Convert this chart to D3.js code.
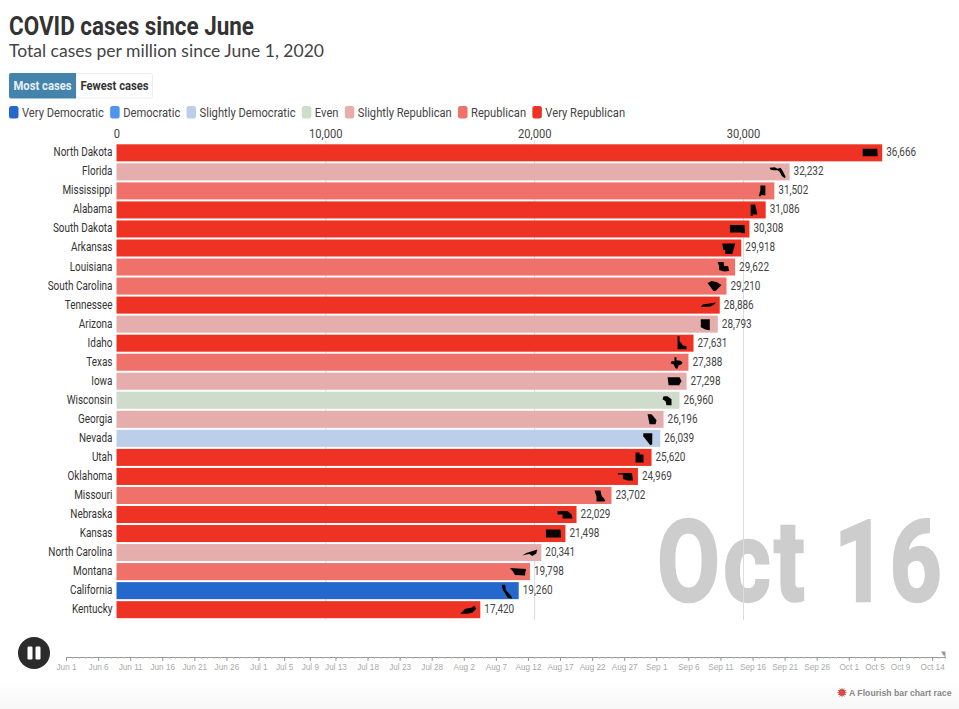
<!DOCTYPE html>
<html>
<head>
<meta charset="utf-8">
<script src="https://cdn.jsdelivr.net/npm/d3@7"></script>
<style>
  body { margin: 0; background: #fff; overflow: hidden; }
  svg { display: block; font-family: Roboto, sans-serif; }
</style>
</head>
<body>
<svg id="chart" width="959" height="709"></svg>
<script>
const states = ['North Dakota', 'Florida', 'Mississippi', 'Alabama', 'South Dakota', 'Arkansas', 'Louisiana',
  'South Carolina', 'Tennessee', 'Arizona', 'Idaho', 'Texas', 'Iowa', 'Wisconsin', 'Georgia', 'Nevada', 'Utah',
  'Oklahoma', 'Missouri', 'Nebraska', 'Kansas', 'North Carolina', 'Montana', 'California', 'Kentucky'];
const cases = [36666, 32232, 31502, 31086, 30308, 29918, 29622, 29210, 28886, 28793, 27631, 27388, 27298, 26960,
  26196, 26039, 25620, 24969, 23702, 22029, 21498, 20341, 19798, 19260, 17420];
const leanings = ['Very Republican', 'Slightly Republican', 'Republican', 'Very Republican', 'Very Republican',
  'Very Republican', 'Republican', 'Republican', 'Very Republican', 'Slightly Republican', 'Very Republican',
  'Republican', 'Slightly Republican', 'Even', 'Slightly Republican', 'Slightly Democratic', 'Very Republican',
  'Very Republican', 'Republican', 'Very Republican', 'Very Republican', 'Slightly Republican', 'Republican',
  'Very Democratic', 'Very Republican'];
const leaningNames = ['Very Democratic', 'Democratic', 'Slightly Democratic', 'Even', 'Slightly Republican',
  'Republican', 'Very Republican'];
const leaningColors = ['#2468cc', '#4f94ef', '#bccee9', '#d0dccb', '#e5aeac', '#f0706a', '#ee3224'];
const xTicks = [0, 10000, 20000, 30000];
const timeLabels = ['Jun 1', 'Jun 6', 'Jun 11', 'Jun 16', 'Jun 21', 'Jun 26', 'Jul 1', 'Jul 5', 'Jul 9', 'Jul 13',
  'Jul 18', 'Jul 23', 'Jul 28', 'Aug 2', 'Aug 7', 'Aug 12', 'Aug 17', 'Aug 22', 'Aug 27', 'Sep 1', 'Sep 6',
  'Sep 11', 'Sep 16', 'Sep 21', 'Sep 26', 'Oct 1', 'Oct 5', 'Oct 9', 'Oct 14'];

// little state outlines, drawn around their own centre
const stateIcons = {
  'North Dakota': 'M-7.5-4L7-4L7.5 3.5L-7.5 3.5Z',
  'Florida': 'M-8-4L-3-4.5L0-3L3-4L5-1L8 5L7 6.5L4 4L2 0L0-1.5L-4-1.5L-7-2Z',
  'Mississippi': 'M-2-5.5L3-5.5L3 4.5L-1 4L-2 5.5L-3.5 5L-2.5 1L-2-1Z',
  'Alabama': 'M-3-5.5L1.5-5.5L3.5 3L3.5 4.5L-1 4.5L-1 6L-3 6Z',
  'South Dakota': 'M-7.5-4L7-4L7.5 3L7 4.5L3 3.5L-7.5 3.5Z',
  'Arkansas': 'M-7-4.5L6-4.5L5-1L3 6L-4 6L-4 2L-6 2Z',
  'Louisiana': 'M-5.5-5L0.5-5L1-1L5-1L6 4L1 4.5L-4 3L-4-1Z',
  'South Carolina': 'M-7-3L-3-5L2-4L7-1L1 5L-1 5Z',
  'Tennessee': 'M-7 2L-5-0.5L8-2.5L7-1L3 1.5Z',
  'Arizona': 'M-5-5L4-5L4 6L0 5.5L-5 3Z',
  'Idaho': 'M-4-7L-2-7L-2-2L0 0L1 2L5 3L5 6L-4 6Z',
  'Texas': 'M-2-5L0-5L0-2L4-1.5L6 0L5 2L2 3.5L1 6.5L-1 6L-3 2L-6 1L-5-1L-2-1Z',
  'Iowa': 'M-7-4L5-4L7 0L5 3L5 4L-6 4Z',
  'Wisconsin': 'M-4-4L0-4L4-1L4 5L-1 5L-2 1L-5-1Z',
  'Georgia': 'M-4-5L0-5L5 1L4 5L-2 5L-3 0Z',
  'Nevada': 'M-5-5L4-5L4 6L2 7L-5-2Z',
  'Utah': 'M-4-5L0-5L0-3L4-3L4 5L-4 5Z',
  'Oklahoma': 'M-8-3.5L6-3.5L7 4L2 4L-3 2.5L-3-2L-8-2Z',
  'Missouri': 'M-5-5L1-5L2 0L6 5L5 6L-3 6L-3 1Z',
  'Nebraska': 'M-7-3.5L3-3.5L7 0L8 4L-2 4L-2 0L-7 0Z',
  'Kansas': 'M-7.5-4L7-4L7.5 4L-7.5 4Z',
  'North Carolina': 'M-7 3L-3 0.5L8-3L7 1L3 3.5L0 1.5L-3 2Z',
  'Montana': 'M-8-3.5L8-2.5L7 4L-3 3.5L-5 0Z',
  'California': 'M-5-6L-1.5-6L-1-1L5 6L5 8L1 7L-2 2L-4-1Z',
  'Kentucky': 'M-8 4L-5 1L-3-1L3-2L6-4L8-1L4 3L-1 4Z'
};

const svg = d3.select('#chart');
const condensed = 0.86;
const labelSqueeze = 0.83;

const x = d3.scaleLinear().domain([0, 30000]).range([116.5, 743]);
const y = d3.scaleBand().domain(states).range([144.3, 618.2]).paddingInner(0.105);
const color = d3.scaleOrdinal().domain(leaningNames).range(leaningColors);
const parseDay = d3.timeParse('%b %e %Y');
const t = d3.scaleTime()
  .domain([parseDay('Jun 1 2020'), parseDay('Oct 16 2020')])
  .range([66, 945]);

// faint band at the very bottom of the page
const fade = svg.append('defs').append('linearGradient')
  .attr('id', 'fade').attr('x1', 0).attr('x2', 0).attr('y1', 0).attr('y2', 1);
fade.append('stop').attr('offset', 0).attr('stop-color', '#fff');
fade.append('stop').attr('offset', 1).attr('stop-color', '#f7f7f7');
svg.append('rect').attr('x', 0).attr('y', 680).attr('width', 959).attr('height', 29).attr('fill', 'url(#fade)');

// title block
svg.append('text').attr('x', 9).attr('y', 35)
  .attr('font-size', 25).attr('font-weight', 700).attr('fill', '#333')
  .attr('textLength', 245).attr('lengthAdjust', 'spacingAndGlyphs')
  .text('COVID cases since June');
svg.append('text').attr('x', 9).attr('y', 56.5)
  .attr('font-family', 'Lato').attr('font-size', 17.5).attr('fill', '#444')
  .attr('textLength', 315).attr('lengthAdjust', 'spacingAndGlyphs')
  .text('Total cases per million since June 1, 2020');

// buttons
svg.append('rect').attr('x', 76).attr('y', 73.5).attr('width', 76.5).attr('height', 24.5).attr('rx', 2)
  .attr('fill', '#fff').attr('stroke', '#eee');
svg.append('path').attr('d', 'M11 73H76V98.5H11A2 2 0 0 1 9 96.5V75A2 2 0 0 1 11 73Z').attr('fill', '#4483ab');
svg.append('text').attr('x', 42.5).attr('y', 90).attr('text-anchor', 'middle')
  .attr('font-size', 12).attr('font-weight', 700).attr('fill', '#e8f0f5')
  .attr('textLength', 58).attr('lengthAdjust', 'spacingAndGlyphs').text('Most cases');
svg.append('text').attr('x', 114.5).attr('y', 90).attr('text-anchor', 'middle')
  .attr('font-size', 12).attr('font-weight', 700).attr('fill', '#333')
  .attr('textLength', 68).attr('lengthAdjust', 'spacingAndGlyphs').text('Fewest cases');

// legend, laid out left to right from the text widths
let legendX = 9;
leaningNames.forEach(name => {
  const g = svg.append('g').attr('transform', `translate(${legendX},0)`);
  g.append('rect').attr('y', 106).attr('width', 9.5).attr('height', 12.5).attr('rx', 2.5).attr('fill', color(name));
  const label = g.append('text')
    .attr('transform', `translate(13,116.5) scale(${condensed},1)`)
    .attr('font-size', 13).attr('fill', '#444').text(name);
  legendX += 13 + label.node().getComputedTextLength() * condensed + 6.3;
});

// big date stamp, under the gridlines
const stamp = svg.append('text')
  .attr('font-size', 113).attr('font-weight', 700).attr('fill', '#cdcdcd')
  .attr('stroke', '#cdcdcd').attr('stroke-width', 2.5)
  .attr('letter-spacing', 4).attr('text-anchor', 'end').text('Oct 16');
stamp.attr('transform', `translate(945,601) scale(${288 / stamp.node().getComputedTextLength()},1)`);

// gridlines sit behind the bars
const grid = svg.append('g').attr('transform', 'translate(0,620)')
  .call(d3.axisTop(x).tickValues(xTicks.slice(1)).tickSize(480).tickFormat(''));
grid.select('.domain').remove();
grid.selectAll('line').attr('stroke', '#dcdcdc');

const topAxis = svg.append('g').attr('transform', 'translate(0,137.5)')
  .call(d3.axisTop(x).tickValues(xTicks).tickSize(0).tickPadding(0).tickFormat(d3.format(',')));
topAxis.select('.domain').remove();
topAxis.selectAll('text')
  .attr('transform', `scale(${condensed},1)`)
  .attr('font-family', 'Roboto').attr('font-size', 13).attr('fill', '#444');

const rows = svg.append('g').selectAll('g').data(states).join('g')
  .attr('transform', d => `translate(0,${y(d)})`);

rows.append('rect')
  .attr('x', x(0))
  .attr('height', y.bandwidth())
  .attr('width', (d, i) => x(cases[i]) - x(0))
  .attr('fill', (d, i) => color(leanings[i]));

rows.append('path')
  .attr('transform', (d, i) => `translate(${x(cases[i]) - 12},${y.bandwidth() / 2})`)
  .attr('d', d => stateIcons[d])
  .attr('fill', '#050505');

rows.append('text')
  .attr('transform', `translate(112.5,${y.bandwidth() / 2 + 3.5}) scale(${labelSqueeze},1)`)
  .attr('text-anchor', 'end').attr('font-size', 12).attr('fill', '#333')
  .text(d => d);

rows.append('text')
  .attr('transform', (d, i) => `translate(${x(cases[i]) + 4},${y.bandwidth() / 2 + 3.5}) scale(${labelSqueeze},1)`)
  .attr('font-size', 12).attr('fill', '#444')
  .text((d, i) => d3.format(',')(cases[i]));

// timeline
const timeAxisY = 657;
const days = d3.timeDay.range(t.domain()[0], d3.timeDay.offset(t.domain()[1], 1));
svg.append('g').attr('transform', `translate(0,${timeAxisY})`)
  .call(d3.axisBottom(t).tickValues(days).tickSize(2).tickFormat(''))
  .call(g => g.select('.domain').attr('stroke', '#999'))
  .call(g => g.selectAll('line').attr('stroke', '#bbb'));

const timeAxis = svg.append('g').attr('transform', `translate(0,${timeAxisY})`)
  .call(d3.axisBottom(t)
    .tickValues(timeLabels.map(d => parseDay(d + ' 2020')))
    .tickSize(4).tickPadding(3)
    .tickFormat(d3.timeFormat('%b %-d')));
timeAxis.select('.domain').remove();
timeAxis.selectAll('line').attr('stroke', '#999');
timeAxis.selectAll('text')
  .attr('font-family', '"Liberation Sans", Arial, sans-serif')
  .attr('font-size', 8.2).attr('fill', '#aaa');

// end-of-timeline marker
svg.append('path')
  .attr('transform', `translate(${t(t.domain()[1])},${timeAxisY})`)
  .attr('d', 'M0.5 0V-5.5H-4L-1.5-1.5H-0.5V0Z').attr('fill', '#999');

// pause button
const pause = svg.append('g').attr('transform', 'translate(34,653)');
pause.append('circle').attr('r', 16).attr('fill', '#2b2b2b');
pause.append('rect').attr('x', -6.5).attr('y', -6.5).attr('width', 5).attr('height', 13).attr('rx', 1.2).attr('fill', '#fff');
pause.append('rect').attr('x', 1.5).attr('y', -6.5).attr('width', 5).attr('height', 13).attr('rx', 1.2).attr('fill', '#fff');

// credit
const burst = svg.append('g').attr('transform', 'translate(842,692.5)');
burst.append('circle').attr('r', 3.3).attr('fill', '#c23a33');
burst.selectAll('line').data(d3.range(0, 360, 30)).join('line')
  .attr('x2', 4.6).attr('stroke', '#d9534f').attr('stroke-width', 0.8)
  .attr('transform', d => `rotate(${d})`);
svg.append('text').attr('x', 849).attr('y', 695.5)
  .attr('font-family', '"Liberation Sans", Arial, sans-serif')
  .attr('font-size', 9).attr('font-weight', 700).attr('fill', '#888')
  .attr('textLength', 102.5).attr('lengthAdjust', 'spacingAndGlyphs')
  .text('A Flourish bar chart race');
</script>
</body>
</html>
